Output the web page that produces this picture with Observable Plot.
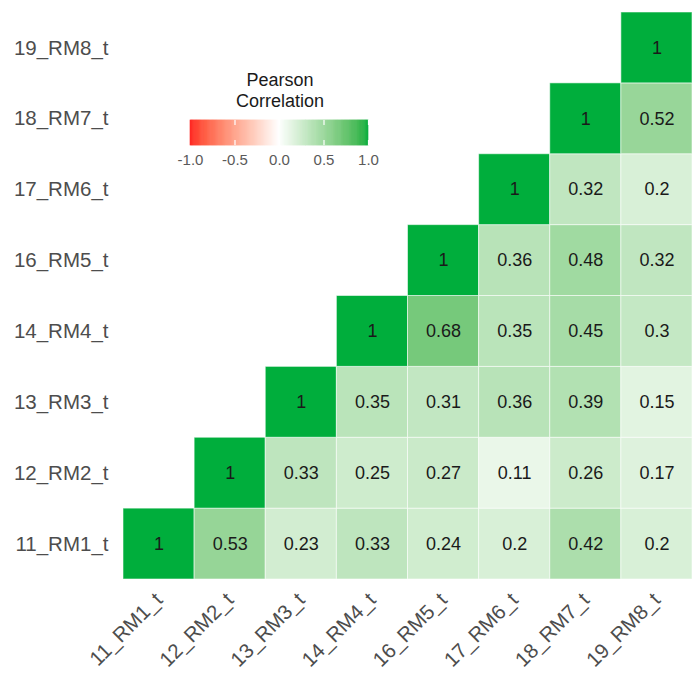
<!DOCTYPE html>
<html>
<head>
<meta charset="utf-8">
<script src="https://cdn.jsdelivr.net/npm/d3@7"></script>
<script src="https://cdn.jsdelivr.net/npm/@observablehq/plot@0.6"></script>
<style>
  html, body { margin: 0; padding: 0; background: #fff; }
  #wrap { position: relative; width: 695px; height: 682px; font-family: "Liberation Sans", Arial, sans-serif; }
  #legend { position: absolute; left: 160px; top: 68px; width: 240px; }
  #legtitle { position: absolute; left: 0; top: 2px; width: 240px; text-align: center; font-size: 18px; line-height: 21px; color: #1a1a1a; }
  #legplot { position: absolute; left: 0; top: 0; }
</style>
</head>
<body>
<div id="wrap">
  <div id="chart"></div>
  <div id="legend"><div id="legplot"></div><div id="legtitle">Pearson<br>Correlation</div></div>
</div>
<script>
const samples = ["11_RM1_t","12_RM2_t","13_RM3_t","14_RM4_t","16_RM5_t","17_RM6_t","18_RM7_t","19_RM8_t"];
// upper triangle rows: row i holds correlations with samples i..7
const row11 = [1, 0.53, 0.23, 0.33, 0.24, 0.2, 0.42, 0.2];
const row12 = [1, 0.33, 0.25, 0.27, 0.11, 0.26, 0.17];
const row13 = [1, 0.35, 0.31, 0.36, 0.39, 0.15];
const row14 = [1, 0.68, 0.35, 0.45, 0.3];
const row16 = [1, 0.36, 0.48, 0.32];
const row17 = [1, 0.32, 0.2];
const row18 = [1, 0.52];
const row19 = [1];
const legendTicks = [-1, -0.5, 0, 0.5, 1];

const rows = [row11,row12,row13,row14,row16,row17,row18,row19];
const cells = [];
rows.forEach((r, i) => r.forEach((v, k) => cells.push({y: samples[i], x: samples[i + k], value: v})));

const colorOpts = {type: "linear", domain: [-1, 0, 1], range: ["#ff1f1f", "#ffffff", "#00ae3c"], interpolate: "lab"};
const fmt = v => v === 1 ? "1" : String(v);

const chart = Plot.plot({
  width: 695, height: 682,
  marginLeft: 123, marginRight: 3, marginTop: 12, marginBottom: 103,
  style: {fontFamily: "Liberation Sans, Arial, sans-serif", background: "#fff"},
  x: {domain: samples, padding: 0, round: false, label: null},
  y: {domain: samples.slice().reverse(), padding: 0, round: false, label: null},
  color: colorOpts,
  marks: [
    Plot.cell(cells, {x: "x", y: "y", fill: "value", stroke: "#ffffff", strokeOpacity: 0.55, strokeWidth: 1, inset: 0}),
    Plot.text(cells, {x: "x", y: "y", text: d => fmt(d.value), fill: "#1a1a1a", fontSize: 18}),
    Plot.axisY({tickSize: 0, tickPadding: 15, fontSize: 20.5, fill: "#4d4d4d", label: null}),
    Plot.axisX({tickSize: 0, tickPadding: 17, tickRotate: -45, fontSize: 20.5, fill: "#4d4d4d", label: null})
  ]
});
document.getElementById("chart").appendChild(chart);

// legend: ramp drawn with Plot on the same color scale
const ramp = d3.range(-1, 1, 0.01).map(v => ({x1: v, x2: v + 0.0101, v: v + 0.005}));
const leg = Plot.plot({
  width: 240, height: 110,
  marginLeft: 30, marginRight: 32, marginTop: 52, marginBottom: 33,
  style: {fontFamily: "Liberation Sans, Arial, sans-serif", background: "transparent", overflow: "visible"},
  x: {domain: [-1, 1], label: null},
  color: colorOpts,
  marks: [
    Plot.rectY(ramp, {x1: "x1", x2: "x2", y1: 0, y2: 1, fill: "v", stroke: "v", strokeWidth: 0.6}),
    Plot.tickX([-0.5, 0, 0.5, 1], {x: d => d, stroke: "#ffffff", strokeWidth: 1.2, insetBottom: 20}),
    Plot.tickX([-0.5, 0, 0.5, 1], {x: d => d, stroke: "#ffffff", strokeWidth: 1.2, insetTop: 20}),
    Plot.axisX({ticks: legendTicks, tickFormat: d => d.toFixed(1), tickSize: 0, tickPadding: 9, fontSize: 15, fill: "#5a5a5a", label: null})
  ],
  y: {axis: null, domain: [0, 1]}
});
document.getElementById("legplot").appendChild(leg);
</script>
</body>
</html>
